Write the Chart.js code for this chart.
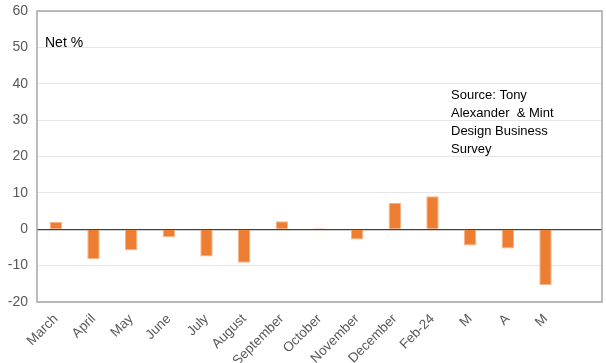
<!DOCTYPE html>
<html>
<head>
<meta charset="utf-8">
<script src="https://cdn.jsdelivr.net/npm/chart.js@4.4.1/dist/chart.umd.min.js"></script>
<style>
  html, body { margin: 0; padding: 0; background: #fff; }
  #wrap { width: 606px; height: 363px; }
</style>
</head>
<body>
<div id="wrap"><canvas id="netChart" width="606" height="363"></canvas></div>
<script>
// monthly net % readings, last slot left blank
const months = ['March', 'April', 'May', 'June', 'July', 'August', 'September', 'October',
    'November', 'December', 'Feb-24', 'M', 'A', 'M', '']
const netValues = [2.0, -8.2, -5.8, -2.2, -7.5, -9.2, 2.2, 0.3, -2.8, 7.2, 9.1, -4.5, -5.3, -15.3, null]
const yTicks = [60, 50, 40, 30, 20, 10, 0, -10, -20]
const sourceLines = ['Source: Tony', 'Alexander  & Mint', 'Design Business', 'Survey']

const FONT = "'Liberation Sans', Arial, sans-serif"

// frame around the plot area plus the two text notes
const frameAndNotes = {
    id: 'frameAndNotes',
    afterDraw(chart) {
        const ctx = chart.ctx
        const a = chart.chartArea
        ctx.save()
        ctx.strokeStyle = '#a6a6a6'
        ctx.lineWidth = 1.5
        ctx.strokeRect(a.left, a.top, a.right - a.left, a.bottom - a.top)

        ctx.fillStyle = '#000'
        ctx.textBaseline = 'alphabetic'
        ctx.font = '14px ' + FONT
        ctx.fillText('Net %', 45, 47)

        ctx.font = '13px ' + FONT
        sourceLines.forEach((line, i) => {
            ctx.fillText(line, 451, 99 + i * 18)
        })
        ctx.restore()
    }
}

new Chart(document.getElementById('netChart'), {
    type: 'bar',
    data: {
        labels: months,
        datasets: [{
            label: 'Net %',
            data: netValues,
            backgroundColor: '#ed7d31',
            borderColor: '#f7b48a',
            borderWidth: 1,
            barPercentage: 0.33,
            categoryPercentage: 1
        }]
    },
    options: {
        responsive: false,
        animation: false,
        layout: { padding: { top: 11, right: 4, left: 0, bottom: 0 } },
        plugins: {
            legend: { display: false },
            tooltip: { enabled: false }
        },
        scales: {
            x: {
                grid: { display: false },
                border: { display: false },
                ticks: {
                    color: '#595959',
                    font: { family: FONT, size: 13.5 },
                    minRotation: 45,
                    maxRotation: 45,
                    padding: 1,
                    autoSkip: false
                },
                afterFit(scale) {
                    scale.height = 61
                    scale.paddingLeft = 0
                    scale.paddingRight = 0
                }
            },
            y: {
                min: -20,
                max: 60,
                afterBuildTicks(scale) {
                    scale.ticks = yTicks.map(v => ({ value: v }))
                },
                grid: {
                    color: ctx => ctx.tick && ctx.tick.value === 0 ? '#404040' : '#e6e6e6',
                    lineWidth: ctx => ctx.tick && ctx.tick.value === 0 ? 1.2 : 1,
                    drawTicks: false
                },
                border: { display: false },
                ticks: {
                    color: '#595959',
                    font: { family: FONT, size: 14 },
                    padding: 9
                },
                afterFit(scale) {
                    scale.width = 37
                    scale.paddingTop = 0
                    scale.paddingBottom = 0
                }
            }
        }
    },
    plugins: [frameAndNotes]
})
</script>
</body>
</html>
